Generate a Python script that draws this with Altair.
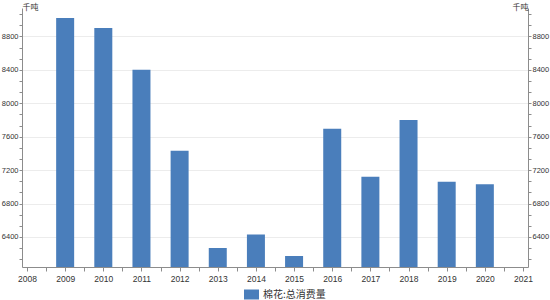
import altair as alt
import pandas as pd

# Annual total cotton consumption (thousand tonnes)
years = [2009, 2010, 2011, 2012, 2013, 2014, 2015, 2016, 2017, 2018, 2019, 2020]
consumption = [9020, 8900, 8400, 7430, 6268, 6430, 6172, 7696, 7120, 7800, 7060, 7030]
series_name = "棉花:总消费量"

# Axis tick labels
y_major = [6400, 6800, 7200, 7600, 8000, 8400, 8800]
x_ticks = [2008 + i * 0.5 for i in range(27)]
y_domain = [6040, 9140]
x_domain = [2008, 2021]

# Major ticks plus two minor ticks between each pair of labelled values
y_ticks = []
for v in [y_major[0] - 400] + y_major:
    for k in range(3):
        t = v + k * 400 / 3
        if y_domain[0] <= t <= y_domain[1]:
            y_ticks.append(round(t, 3))

df = pd.DataFrame({"year": years, "value": consumption, "series": series_name})

BAR = "#4a7ebb"
AXIS = "#8c8c8c"
LABEL = "#333333"
FONT = "Noto Sans CJK SC"
NUM_FONT = "Liberation Sans"
is_major = "datum.value % 400 === 0"

x_enc = alt.X(
    "year:Q",
    scale=alt.Scale(domain=x_domain, nice=False, zero=False),
    axis=alt.Axis(
        values=x_ticks,
        labelExpr="datum.value % 1 === 0 ? format(datum.value, 'd') : ''",
        title=None, grid=False, labelFlush=False, tickSize=4,
        domainColor=AXIS, tickColor=AXIS, labelColor=LABEL,
        labelFontSize=8.5, labelFont=NUM_FONT, labelPadding=3,
    ),
)

y_scale = alt.Scale(domain=y_domain, nice=False, zero=False)

left_axis = alt.Axis(
    orient="left", values=y_ticks, format="d",
    labelExpr=f"{is_major} ? format(datum.value, 'd') : ''",
    title="千吨", titleAngle=0, titleAlign="left", titleBaseline="middle",
    titleX=0, titleY=-1, titleFontSize=8, titleFontWeight="normal",
    titleFont=FONT, titleColor=LABEL,
    tickSize=3, labelPadding=1, domainColor=AXIS, tickColor=AXIS, labelColor=LABEL,
    labelFontSize=7.5, labelFont=NUM_FONT,
    grid=True, gridColor="#ececec",
    gridOpacity={"condition": {"test": is_major, "value": 1}, "value": 0},
)

right_axis = alt.Axis(
    orient="right", values=y_ticks, format="d",
    labelExpr=f"{is_major} ? format(datum.value, 'd') : ''",
    title="千吨", titleAngle=0, titleAlign="right", titleBaseline="middle",
    titleX=0, titleY=-1, titleFontSize=8, titleFontWeight="normal",
    titleFont=FONT, titleColor=LABEL,
    tickSize=3, labelPadding=1, domainColor=AXIS, tickColor=AXIS, labelColor=LABEL,
    labelFontSize=7.5, labelFont=NUM_FONT, grid=False,
)

bars = alt.Chart(df).mark_bar(size=18, clip=True).encode(
    x=x_enc,
    y=alt.Y("value:Q", scale=y_scale, axis=left_axis),
    color=alt.Color(
        "series:N",
        scale=alt.Scale(domain=[series_name], range=[BAR]),
        legend=alt.Legend(
            title=None, orient="none", legendX=222, legendY=279,
            symbolType="M-1,-0.667L1,-0.667L1,0.667L-1,0.667Z",
            symbolSize=225, symbolStrokeWidth=0, symbolOpacity=1,
            labelFont=FONT, labelFontSize=10, labelColor=LABEL,
            padding=0, labelOffset=4,
        ),
    ),
)

mirror = alt.Chart(df).mark_bar(size=18, opacity=0).encode(
    x=x_enc,
    y=alt.Y("value:Q", scale=y_scale, axis=right_axis),
)

chart = (
    alt.layer(bars, mirror)
    .resolve_scale(y="shared")
    .resolve_axis(y="independent")
    .properties(
        width=506, height=259,
        autosize=alt.AutoSizeParams(type="none"),
        padding={"left": 22, "top": 8, "right": 22, "bottom": 33},
        background="white",
    )
    .configure_view(stroke=None)
)

chart.save("out.html", embed_options={"renderer": "svg", "actions": False})
